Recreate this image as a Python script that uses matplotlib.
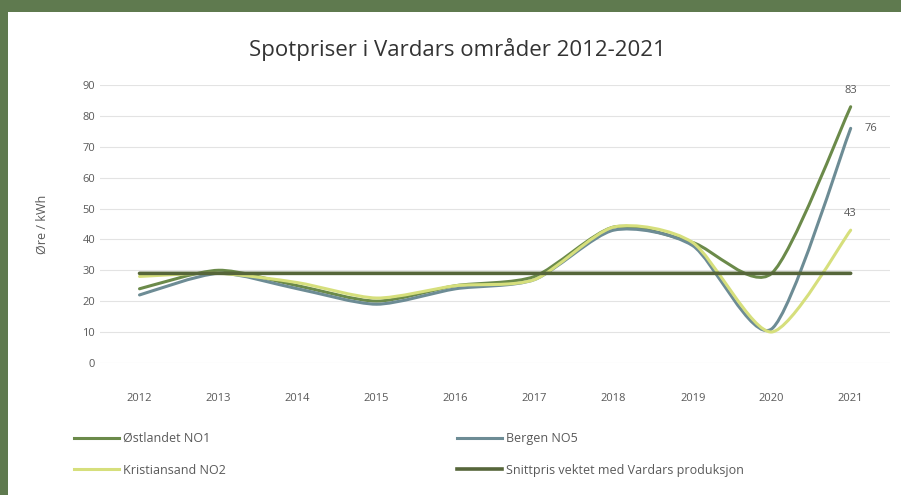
import matplotlib
matplotlib.use("Agg")
import matplotlib.pyplot as plt
import matplotlib.patches as mpatches
from matplotlib.path import Path
from matplotlib.lines import Line2D

plt.rcParams['font.family'] = ['Open Sans', 'DejaVu Sans']

years = [2012, 2013, 2014, 2015, 2016, 2017, 2018, 2019, 2020, 2021]
ostland = [24, 30, 25, 20, 25, 28, 44, 39, 29, 83]
bergen = [22, 29, 24, 19, 24, 27, 43, 38, 11, 76]
kristiansand = [28, 29, 26, 21, 25, 27, 44, 39, 10, 43]
snitt = [29, 29, 29, 29, 29, 29, 29, 29, 29, 29]

labels = ['Østlandet NO1', 'Bergen NO5', 'Kristiansand NO2',
          'Snittpris vektet med Vardars produksjon']
colors = ['#6b8a4a', '#6d8c95', '#d6df7c', '#56663a']


def smooth_path(xs, ys, k=8.0):
    # Excel-style smoothed line: cubic Bezier through every data point
    pts = list(zip(xs, ys))
    verts = [pts[0]]
    codes = [Path.MOVETO]
    n = len(pts)
    for i in range(n - 1):
        p0 = pts[max(i - 1, 0)]
        p1 = pts[i]
        p2 = pts[i + 1]
        p3 = pts[min(i + 2, n - 1)]
        c1 = (p1[0] + (p2[0] - p0[0]) / k, p1[1] + (p2[1] - p0[1]) / k)
        c2 = (p2[0] - (p3[0] - p1[0]) / k, p2[1] - (p3[1] - p1[1]) / k)
        verts += [c1, c2, p2]
        codes += [Path.CURVE4] * 3
    return Path(verts, codes)


fig = plt.figure(figsize=(9.01, 4.95), dpi=100, facecolor='#5f7a4f')
# white panel inside the green frame
fig.patches.append(mpatches.Rectangle((8 / 901, 0), 1, 1 - 12 / 495,
                                      transform=fig.transFigure,
                                      facecolor='white', edgecolor='none', zorder=-5))

ax = fig.add_axes([0.111, 0.267, 0.877, 0.561])
ax.set_zorder(2)
ax.set_facecolor('none')
x = list(range(len(years)))

handles = []
for vals, col, lab, lw in zip([ostland, bergen, kristiansand, snitt], colors, labels,
                              [2.2, 2.2, 2.2, 2.6]):
    ax.add_patch(mpatches.PathPatch(smooth_path(x, vals), fill=False, edgecolor=col,
                                    lw=lw, capstyle='round', joinstyle='round'))
    handles.append(Line2D([], [], color=col, lw=lw, label=lab))

ax.annotate(str(ostland[-1]), (x[-1], ostland[-1]), xytext=(0, 8), textcoords='offset points',
            ha='center', va='bottom', fontsize=8, color='#595959')
ax.annotate(str(bergen[-1]), (x[-1], bergen[-1]), xytext=(10, 0), textcoords='offset points',
            ha='left', va='center', fontsize=8, color='#595959')
ax.annotate(str(kristiansand[-1]), (x[-1], kristiansand[-1]), xytext=(0, 8), textcoords='offset points',
            ha='center', va='bottom', fontsize=8, color='#595959')

ax.set_xlim(-0.5, len(years) - 0.5)
ax.set_ylim(0, 90)
ax.set_yticks(range(0, 91, 10))
ax.set_xticks(x)
ax.set_xticklabels([str(y) for y in years])
ax.tick_params(axis='both', length=0, labelsize=8, colors='#595959')
ax.tick_params(axis='x', pad=22)
ax.grid(axis='y', color='#e3e3e3', lw=0.8)
ax.set_axisbelow(True)
for s in ax.spines.values():
    s.set_visible(False)
ax.set_ylabel('Øre / kWh', fontsize=9, color='#595959', labelpad=24)

fig.text(0.508, 0.9, 'Spotpriser i Vardars områder 2012-2021', ha='center', va='center',
         fontsize=16, color='#333333')

# column-first fill: row 1 = Østlandet, Bergen; row 2 = Kristiansand, Snitt
h1, h2, h3, h4 = handles
fig.legend(handles=[h1, h3, h2, h4], loc='upper left', bbox_to_anchor=(0.07, 0.15),
           ncol=2, frameon=False, fontsize=9, labelcolor='#595959',
           columnspacing=18.5, handlelength=3.6, handletextpad=0.3, labelspacing=1.5)

fig.savefig('out.png', dpi=100, facecolor=fig.get_facecolor())
